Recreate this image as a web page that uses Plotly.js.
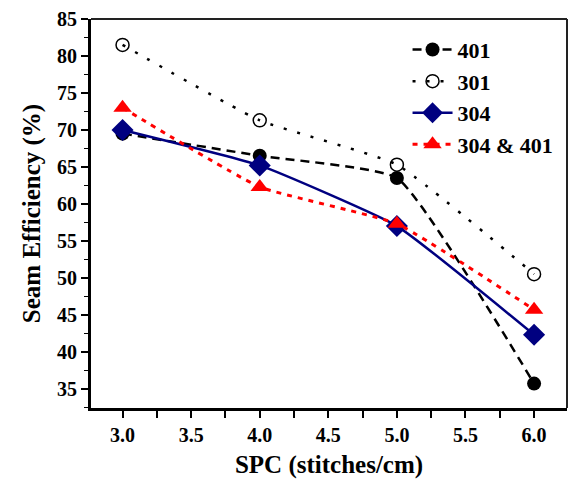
<!DOCTYPE html>
<html>
<head>
<meta charset="utf-8">
<script src="https://cdn.plot.ly/plotly-3.0.1.min.js"></script>
<style>html,body{margin:0;padding:0;background:#fff;}#chart{width:570px;height:479px;}</style>
</head>
<body>
<div id="chart"></div>
<script>
const spc = [3.0, 4.0, 5.0, 6.0];
const s401 = [69.5, 66.5, 63.5, 35.7];
const s301 = [81.5, 71.3, 65.3, 50.5];
const s304 = [70.0, 65.2, 57.0, 42.3];
const s304_401 = [73.0, 62.3, 57.3, 45.7];
const seriesNames = ['401', '301', '304', '304 &amp; 401'];
const xTickVals = [3.0, 3.5, 4.0, 4.5, 5.0, 5.5, 6.0];
const xTickText = ['3.0', '3.5', '4.0', '4.5', '5.0', '5.5', '6.0'];

const fontFam = '"Liberation Serif", "Times New Roman", serif';

const traces = [
  {x: spc, y: s401, name: seriesNames[0], mode: 'lines+markers',
   line: {color: '#000', width: 2.5, dash: '9px,6px', shape: 'spline', smoothing: 0.4},
   marker: {symbol: 'circle', size: 14, color: '#000'}},
  {x: spc, y: s301, name: seriesNames[1], mode: 'lines+markers',
   line: {color: '#000', width: 2.5, dash: '3px,11px', shape: 'spline', smoothing: 0.4},
   marker: {symbol: 'circle-open', size: 13, color: '#000', line: {width: 1.5}}},
  {x: spc, y: s304, name: seriesNames[2], mode: 'lines+markers',
   line: {color: '#000080', width: 2.5, shape: 'spline', smoothing: 0.4},
   marker: {symbol: 'diamond', size: 17, color: '#000080'}},
  {x: spc, y: s304_401, name: seriesNames[3], mode: 'lines+markers',
   line: {color: '#ff0000', width: 3, dash: '5px,6px', shape: 'spline', smoothing: 0.4},
   marker: {symbol: 'triangle-up', size: 16, color: '#ff0000'}}
];

const layout = {
  width: 570, height: 479,
  margin: {l: 91, r: 3, t: 19, b: 71},
  paper_bgcolor: '#fff', plot_bgcolor: '#fff',
  font: {family: fontFam, color: '#000', size: 20, weight: 'bold'},
  showlegend: true,
  legend: {x: 0.665, y: 0.975, xanchor: 'left', yanchor: 'top', bgcolor: 'rgba(0,0,0,0)',
           font: {family: fontFam, size: 22, weight: 'bold', color: '#000'}, tracegroupgap: 0, itemwidth: 40},
  xaxis: {
    range: [2.77, 6.24], showgrid: false, zeroline: false,
    showline: true, linecolor: '#000', linewidth: 3,
    tickmode: 'array', tickvals: xTickVals, ticktext: xTickText,
    ticks: 'outside', ticklen: 7, tickwidth: 2, tickcolor: '#000',
    minor: {dtick: 0.25, tick0: 3.0, ticks: 'outside', ticklen: 7, tickwidth: 2, tickcolor: '#000'},
    tickfont: {family: fontFam, size: 20, weight: 'bold'},
    title: {text: 'SPC (stitches/cm)', font: {family: fontFam, size: 25, weight: 'bold'}, standoff: 14}
  },
  yaxis: {
    range: [32.4, 85], showgrid: false, zeroline: false,
    showline: true, linecolor: '#000', linewidth: 3,
    tickmode: 'linear', tick0: 35, dtick: 5,
    ticks: 'outside', ticklen: 7, tickwidth: 2, tickcolor: '#000',
    minor: {dtick: 2.5, tick0: 35, ticks: 'outside', ticklen: 4, tickwidth: 1.5, tickcolor: '#000'},
    tickfont: {family: fontFam, size: 20, weight: 'bold'},
    title: {text: 'Seam Efficiency (%)', font: {family: fontFam, size: 25, weight: 'bold'}, standoff: 10}
  },
  shapes: [
    {type: 'line', xref: 'paper', yref: 'paper', x0: 0, x1: 1, y0: 1, y1: 1, line: {color: '#222', width: 2}},
    {type: 'line', xref: 'paper', yref: 'paper', x0: 1, x1: 1, y0: 0, y1: 1, line: {color: '#222', width: 2}}
  ]
};

Plotly.newPlot('chart', traces, layout, {displayModeBar: false, staticPlot: true});
</script>
</body>
</html>
